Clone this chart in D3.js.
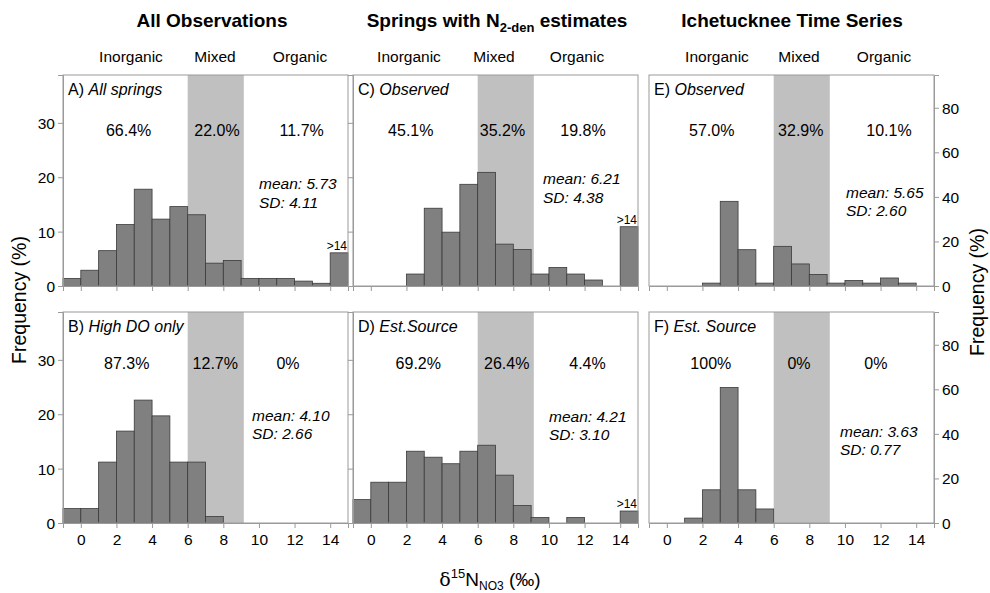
<!DOCTYPE html>
<html><head><meta charset="utf-8">
<script src="https://cdn.jsdelivr.net/npm/d3@7"></script>
<style>
body{margin:0;background:#fff;}
svg{font-family:"Liberation Sans",Arial,sans-serif;}
</style></head>
<body><svg id="c" width="990" height="593"></svg>
<script>
// ---------- data ----------
const binStarts = [-1,0,1,2,3,4,5,6,7,8,9,10,11,12,13,14];
const xTicks = [0,2,4,6,8,10,12,14];
const leftTicks = [0,10,20,30];
const rightTicks = [0,20,40,60,80];
const sourceClasses = ["Inorganic","Mixed","Organic"];
const mixedRange = [6,9.15];
const columnTitles = ["All Observations","Springs with N","Ichetucknee Time Series"];

const allSprings = [1.4,2.9,6.5,11.3,17.8,12.3,14.6,13.1,4.2,4.7,1.4,1.4,1.4,0.9,0.5,6.1];
const highDO     = [2.65,2.65,11.2,16.9,22.6,19.7,11.2,11.2,1.2,0,0,0,0,0,0,0];
const n2Observed = [0,0,0,2.2,14.3,9.9,18.7,20.9,7.7,6.7,2.2,3.4,2.2,1.1,0,10.9];
const n2EstSource= [4.3,7.5,7.5,13.2,12.1,10.9,13.2,14.3,8.8,3.2,1.0,0,1.0,0,0,2.2];
const ichObserved= [0,0,0,1.3,38,16.3,1.3,17.8,9.9,5.2,1.3,2.5,1.3,3.6,1.3,0];
const ichEstSource=[0,0,2.2,14.9,60.8,14.9,6.3,0,0,0,0,0,0,0,0,0];

const panelLetters = ["A)","B)","C)","D)","E)","F)"];
const panelNames = ["All springs","High DO only","Observed","Est.Source","Observed","Est. Source"];
const panelPercents = [["66.4%","22.0%","11.7%"],["87.3%","12.7%","0%"],["45.1%","35.2%","19.8%"],
                       ["69.2%","26.4%","4.4%"],["57.0%","32.9%","10.1%"],["100%","0%","0%"]];
const panelMeans = ["mean: 5.73","mean: 4.10","mean: 6.21","mean: 4.21","mean: 5.65","mean: 3.63"];
const panelSDs = ["SD: 4.11","SD: 2.66","SD: 4.38","SD: 3.10","SD: 2.60","SD: 0.77"];
const overflowLabel = ">14";
const panelSeries = [allSprings,highDO,n2Observed,n2EstSource,ichObserved,ichEstSource];

// ---------- layout ----------
const colX = [63,353,649], rowY = [75,312], PW = 285, PH = 211;
const yMaxLeft = 38.8, yMaxRight = 94.7;
const pctX = [[65.6,154,238.7],[63.7,152.3,225],[57.8,149.5,230],[65.3,153.7,234.5],[62.7,151.8,240],[61.8,150,226.8]];
const pctY = [60.5,56.5];
const statX = [196,189,190,196,197,191];
const statY = [114,108.5,109,109.5,122.5,124.5];
const headX = [[68,152,237],[56,141,224],[68,150,235]];
const titleX = [212,497,792];
const showOverflow = [true,false,true,true,false,false];

const svg = d3.select("#c");
const FONT = 15.5;
const x = d3.scaleLinear().domain([-1,15]).range([0,PW]);

// titles
columnTitles.forEach((t,i)=>{
  const tx = svg.append("text").attr("x",titleX[i]).attr("y",27).attr("text-anchor","middle")
    .attr("font-weight","bold").attr("font-size",19).text(t);
  if(i===1){
    tx.append("tspan").attr("font-size",13).attr("dy",5).text("2-den");
    tx.append("tspan").attr("dy",-5).text(" estimates");
  }
  sourceClasses.forEach((c,j)=>{
    svg.append("text").attr("x",colX[i]+headX[i][j]).attr("y",62).attr("text-anchor","middle")
      .attr("font-size",FONT).text(c);
  });
});

panelSeries.forEach((vals,p)=>{
  const col = Math.floor(p/2), row = p%2;
  const g = svg.append("g").attr("transform",`translate(${colX[col]},${rowY[row]})`);
  const right = col===2;
  const y = d3.scaleLinear().domain([0, right?yMaxRight:yMaxLeft]).range([PH,0]);
  // mixed band
  g.append("rect").attr("x",x(mixedRange[0])).attr("width",x(mixedRange[1])-x(mixedRange[0]))
    .attr("y",0).attr("height",PH).attr("fill","#c0c0c0");
  // bars
  g.selectAll("rect.bar").data(binStarts.map((b,i)=>({b,v:vals[i]})).filter(d=>d.v>0)).join("rect")
    .attr("class","bar").attr("x",d=>x(d.b)).attr("width",d=>x(d.b+1)-x(d.b))
    .attr("y",d=>y(d.v)).attr("height",d=>PH-y(d.v))
    .attr("fill","#808080").attr("stroke","#3a3a3a").attr("stroke-width",0.8);
  // frame
  g.append("rect").attr("x",0).attr("y",0).attr("width",PW).attr("height",PH)
    .attr("fill","none").attr("stroke","#9a9a9a").attr("stroke-width",1);
  // x axis
  const xa = d3.axisBottom(x).tickValues(xTicks).tickSize(5).tickPadding(6);
  if(row===0) xa.tickFormat("");
  const gx = g.append("g").attr("transform",`translate(0,${PH})`).call(xa);
  // y axis
  let gy;
  if(right){
    gy = g.append("g").attr("transform",`translate(${PW},0)`)
      .call(d3.axisRight(y).tickValues(rightTicks).tickSize(5).tickPadding(3));
  } else {
    const ya = d3.axisLeft(y).tickValues(leftTicks).tickSize(5).tickPadding(3);
    if(col===1) ya.tickFormat("");
    gy = g.append("g").call(ya);
  }
  [gx,gy].forEach(a=>{
    a.select(".domain").attr("stroke","#9a9a9a");
    a.selectAll(".tick line").attr("stroke","#9a9a9a");
    a.selectAll("text").attr("font-size",FONT).attr("font-family","Liberation Sans, Arial").attr("fill","#000");
  });
  gy.selectAll("text").attr("dy","0.35em");
  // panel label
  const pl = g.append("text").attr("x",5).attr("y",19.5).attr("font-size",16).text(panelLetters[p]+" ");
  pl.append("tspan").attr("font-style","italic").text(panelNames[p]);
  // percents
  panelPercents[p].forEach((t,j)=>{
    g.append("text").attr("x",pctX[p][j]).attr("y",pctY[row]).attr("text-anchor","middle")
      .attr("font-size",16).text(t);
  });
  // stats
  g.append("text").attr("x",statX[p]).attr("y",statY[p]).attr("font-size",FONT).attr("font-style","italic").text(panelMeans[p]);
  g.append("text").attr("x",statX[p]).attr("y",statY[p]+18.5).attr("font-size",FONT).attr("font-style","italic").text(panelSDs[p]);
  // overflow label
  if(showOverflow[p]){
    g.append("text").attr("x",PW-1).attr("y",y(vals[15])-3).attr("text-anchor","end")
      .attr("font-size",12).text(overflowLabel);
  }
});

// axis titles
svg.append("text").attr("transform","translate(26,300) rotate(-90)").attr("text-anchor","middle")
  .attr("font-size",19.5).text("Frequency (%)");
svg.append("text").attr("transform","translate(984,292) rotate(-90)").attr("text-anchor","middle")
  .attr("font-size",19.5).text("Frequency (%)");
const xl = svg.append("text").attr("x",490).attr("y",586).attr("text-anchor","middle").attr("font-size",19);
xl.append("tspan").attr("font-family","DejaVu Serif, serif").text("δ");
xl.append("tspan").attr("font-size",13).attr("dy",-8).text("15");
xl.append("tspan").attr("dy",8).text("N");
xl.append("tspan").attr("font-size",12).attr("dy",4).text("NO3");
xl.append("tspan").attr("dy",-4).text(" (‰)");
</script></body></html>
